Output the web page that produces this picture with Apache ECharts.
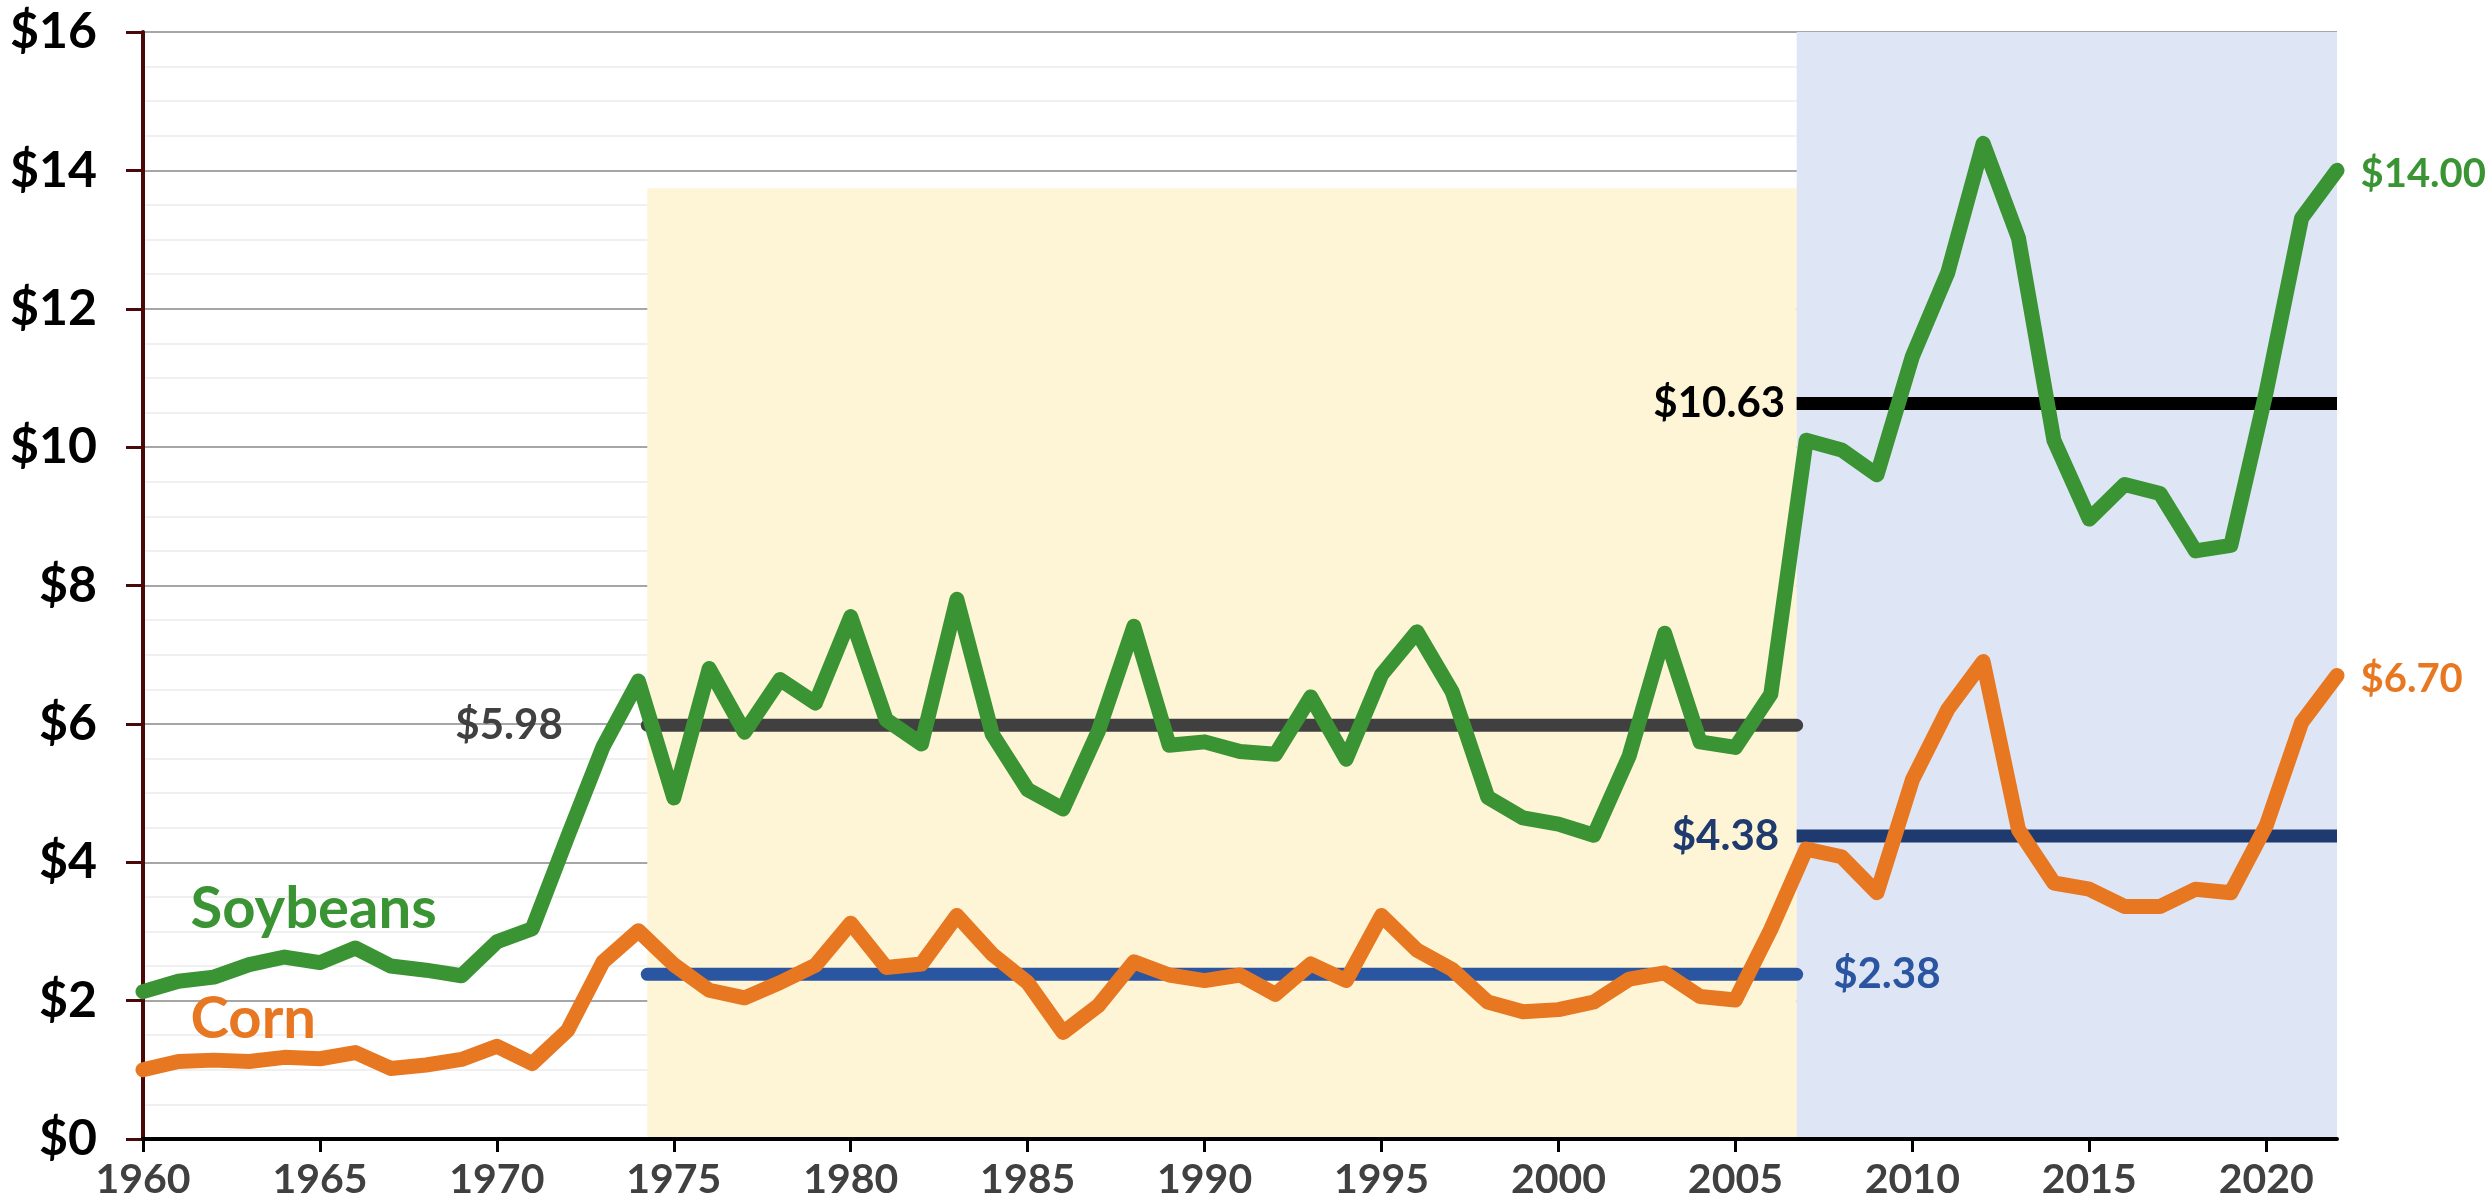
<!DOCTYPE html>
<html>
<head>
<meta charset="utf-8">
<script src="https://cdn.jsdelivr.net/npm/echarts@6/dist/echarts.min.js"></script>
<style>
html,body{margin:0;padding:0;background:#fff;}
#chart{width:2486px;height:1201px;}
</style>
</head>
<body>
<div id="chart"></div>
<script>
// ---- data ----
const years = [1960,1961,1962,1963,1964,1965,1966,1967,1968,1969,
  1970,1971,1972,1973,1974,1975,1976,1977,1978,1979,
  1980,1981,1982,1983,1984,1985,1986,1987,1988,1989,
  1990,1991,1992,1993,1994,1995,1996,1997,1998,1999,
  2000,2001,2002,2003,2004,2005,2006,2007,2008,2009,
  2010,2011,2012,2013,2014,2015,2016,2017,2018,2019,
  2020,2021,2022];
const soybeans = [2.13,2.28,2.34,2.52,2.63,2.55,2.76,2.50,2.44,2.36,
  2.85,3.04,4.37,5.67,6.62,4.93,6.80,5.88,6.64,6.30,
  7.55,6.06,5.71,7.80,5.85,5.05,4.77,5.90,7.41,5.69,
  5.74,5.60,5.56,6.39,5.49,6.71,7.33,6.46,4.94,4.64,
  4.55,4.39,5.54,7.31,5.74,5.66,6.43,10.10,9.96,9.60,
  11.31,12.52,14.39,13.02,10.10,8.96,9.46,9.33,8.50,8.58,
  10.80,13.31,14.00];
const corn = [1.00,1.12,1.14,1.12,1.18,1.16,1.25,1.02,1.07,1.15,
  1.34,1.09,1.57,2.56,3.01,2.52,2.15,2.04,2.26,2.51,
  3.12,2.48,2.53,3.23,2.67,2.26,1.54,1.93,2.56,2.37,
  2.29,2.37,2.09,2.53,2.29,3.23,2.73,2.45,1.98,1.84,
  1.87,1.98,2.31,2.40,2.06,2.01,3.03,4.19,4.08,3.56,
  5.19,6.21,6.90,4.47,3.70,3.61,3.36,3.36,3.61,3.56,
  4.53,6.02,6.70];
// period boundaries (fractional years) and period averages
const period1 = [1974.25, 2006.73];
const period2 = [2006.73, 2022];
const soyAvg = [5.98, 10.63];
const cornAvg = [2.38, 4.38];
const yellowBandTop = 13.74;
const xTicks = [1960,1965,1970,1975,1980,1985,1990,1995,2000,2005,2010,2015,2020];
const seriesNames = ['Soybeans', 'Corn'];
const endValues = [14.00, 6.70];

const FONT = 'Lato';
const GREEN = '#3A9434';
const ORANGE = '#E87722';

function pairs(vals){ return years.map((y,i)=>[y, vals[i]]); }
function money(v){ return '$' + v.toFixed(2); }

function avgSeries(range, val, color, cap, labelPos, labelDist, labelColor){
  return {
    type:'line', z:3, silent:true, animation:false,
    data:[[range[0], val],[range[1], val]],
    showSymbol:false, symbol:'none',
    lineStyle:{color:color, width:13, cap:cap},
    markPoint:{
      symbol:'circle', symbolSize:1, itemStyle:{color:'rgba(0,0,0,0)'},
      animation:false,
      label:{show:true, position:labelPos, distance:labelDist, formatter:money(val),
        fontFamily:FONT, fontWeight:'bold', fontSize:42, color:labelColor},
      data:[{coord: labelPos==='left' ? [range[0], val] : [range[1], val]}]
    }
  };
}

const chart = echarts.init(document.getElementById('chart'), null, {renderer:'canvas'});
chart.setOption({
  animation:false,
  backgroundColor:'#ffffff',
  grid:{left:143, right:149, top:32, bottom:62, containLabel:false},
  xAxis:{
    type:'value', min:1960, max:2022, z:5,
    splitLine:{show:false},
    axisLine:{show:true, onZero:false, lineStyle:{color:'#000', width:4}},
    axisTick:{show:true, customValues:xTicks, length:13, lineStyle:{color:'#000', width:3}},
    axisLabel:{customValues:xTicks, margin:20, fontFamily:FONT, fontWeight:'bold', fontSize:41, color:'#404040',
      formatter:v=>String(v)}
  },
  yAxis:{
    type:'value', min:0, max:16, interval:2, z:1,
    axisLine:{show:true, lineStyle:{color:'#4A0808', width:4}},
    axisTick:{show:true, length:17, lineStyle:{color:'#4A0808', width:3}},
    axisLabel:{margin:46, fontFamily:FONT, fontWeight:'bold', fontSize:50, color:'#000',
      formatter:v=>'$'+v},
    splitLine:{show:true, lineStyle:{color:'#A6A6A6', width:2}},
    minorTick:{show:false, splitNumber:4},
    minorSplitLine:{show:true, lineStyle:{color:'#F0F0F0', width:2}}
  },
  series:[
    {
      type:'line', z:0, silent:true, data:[], 
      markArea:{silent:true, data:[
        [{coord:[period1[0],0], itemStyle:{color:'#FEF5D6'}},{coord:[period1[1],yellowBandTop]}],
        [{coord:[period2[0],0], itemStyle:{color:'#DEE6F5'}},{coord:[period2[1],16]}]
      ]}
    },
    avgSeries(period1, soyAvg[0], '#404040', 'round', 'left', 84, '#404040'),
    avgSeries(period1, cornAvg[0], '#2A55A0', 'round', 'right', 36, '#2A55A0'),
    avgSeries(period2, soyAvg[1], '#000000', 'butt', 'left', 11, '#000000'),
    avgSeries(period2, cornAvg[1], '#1F3A6E', 'butt', 'left', 17, '#1F3A6E'),
    {
      name:seriesNames[1], type:'line', z:4, data:pairs(corn), showSymbol:false, symbol:'none',
      lineStyle:{color:ORANGE, width:15, join:'round', cap:'round'},
      markPoint:{symbol:'circle', symbolSize:1, itemStyle:{color:'rgba(0,0,0,0)'},
        data:[
          {coord:[2022, endValues[1]], label:{show:true, position:'right', distance:23, offset:[0,4], formatter:money(endValues[1]),
            fontFamily:FONT, fontWeight:'bold', fontSize:40, color:ORANGE}},
          {coord:[1961.33, 1.73], label:{show:true, position:'right', distance:0, formatter:seriesNames[1],
            fontFamily:FONT, fontWeight:'bold', fontSize:58, color:ORANGE}}
        ]}
    },
    {
      name:seriesNames[0], type:'line', z:5, data:pairs(soybeans), showSymbol:false, symbol:'none',
      lineStyle:{color:GREEN, width:15, join:'round', cap:'round'},
      markPoint:{symbol:'circle', symbolSize:1, itemStyle:{color:'rgba(0,0,0,0)'},
        data:[
          {coord:[2022, endValues[0]], label:{show:true, position:'right', distance:23, offset:[0,4], formatter:money(endValues[0]),
            fontFamily:FONT, fontWeight:'bold', fontSize:40, color:GREEN}},
          {coord:[1961.33, 3.32], label:{show:true, position:'right', distance:0, formatter:seriesNames[0],
            fontFamily:FONT, fontWeight:'bold', fontSize:58, color:GREEN}}
        ]}
    }
  ]
});
</script>
</body>
</html>
